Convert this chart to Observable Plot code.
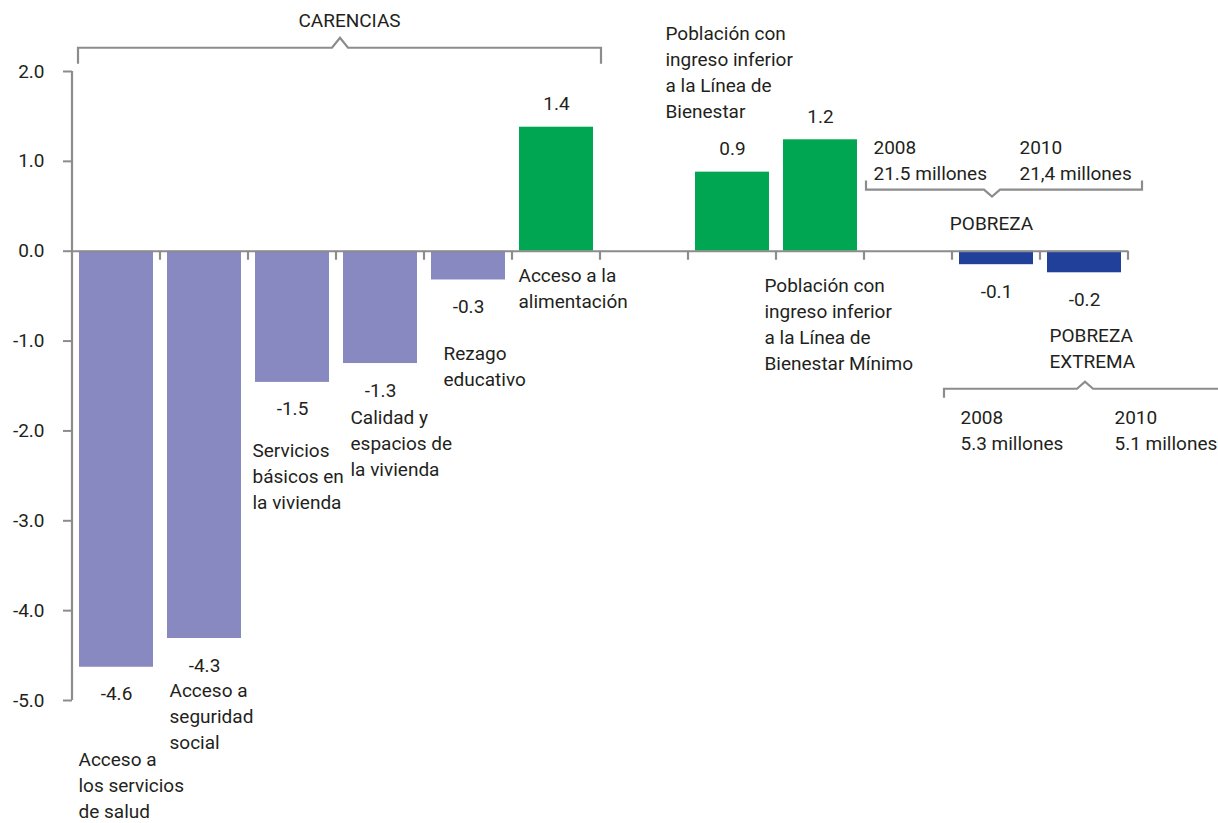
<!DOCTYPE html>
<html><head><meta charset="utf-8">
<script src="https://cdn.jsdelivr.net/npm/d3@7"></script>
<script src="https://cdn.jsdelivr.net/npm/@observablehq/plot@0.6"></script>
<style>
html,body{margin:0;padding:0;background:#fff;}
#chart svg{display:block;}
</style></head><body><div id="chart"></div>
<script>
// ---- data ----
const categories = ["salud","seguridad","servicios","calidad","rezago","alimentacion","gap1","lb","lbm","gap2","pobreza","extrema"];
const values = [-4.63, -4.31, -1.46, -1.25, -0.32, 1.38, null, 0.88, 1.24, null, -0.15, -0.24];
const valueLabels = ["-4.6","-4.3","-1.5","-1.3","-0.3","1.4","","0.9","1.2","","-0.1","-0.2"];
const groups = ["Carencias","Carencias","Carencias","Carencias","Carencias","Carencias","","Ingreso","Ingreso","","Pobreza","Pobreza"];
const categoryLabels = [
  "Acceso a\nlos servicios\nde salud",
  "Acceso a\nseguridad\nsocial",
  "Servicios\nbásicos en\nla vivienda",
  "Calidad y\nespacios de\nla vivienda",
  "Rezago\neducativo",
  "Acceso a la\nalimentación",
  "",
  "Población con\ningreso inferior\na la Línea de\nBienestar",
  "Población con\ningreso inferior\na la Línea de\nBienestar Mínimo",
  "",
  "POBREZA",
  "POBREZA\nEXTREMA"
];
const groupTitle = "CARENCIAS";
const pobrezaYears = ["2008\n21.5 millones", "2010\n21,4 millones"];
const extremaYears = ["2008\n5.3 millones", "2010\n5.1 millones"];
const yTicks = [-5, -4, -3, -2, -1, 0, 1, 2];

// ---- styling ----
const TEXT = "#231f20", GRAY = "#8c8c8c";
const colorOf = d => d.group === "Pobreza" ? "#21409A" : (d.value > 0 ? "#00A651" : "#8789C0");
const data = categories.map((c, i) => ({cat: c, value: values[i], label: valueLabels[i], group: groups[i]}))
  .filter(d => d.value != null);

// annotation placement (y in data units, dx in px from band centre)
const notes = [
  {cat: "salud", y: -5.52, dx: -38, text: categoryLabels[0]},
  {cat: "seguridad", y: -4.76, dx: -35, text: categoryLabels[1]},
  {cat: "servicios", y: -2.08, dx: -40, text: categoryLabels[2]},
  {cat: "calidad", y: -1.72, dx: -30, text: categoryLabels[3]},
  {cat: "rezago", y: -1.0, dx: -25, text: categoryLabels[4]},
  {cat: "alimentacion", y: -0.135, dx: -38, text: categoryLabels[5]},
  {cat: "lb", y: 2.56, dx: -67, text: categoryLabels[7]},
  {cat: "lbm", y: -0.246, dx: -56, text: categoryLabels[8]},
  {cat: "pobreza", y: 0.444, dx: -5, text: categoryLabels[10], anchor: "middle"},
  {cat: "extrema", y: -0.80, dx: -35, text: categoryLabels[11]},
  {cat: "gap2", y: 1.29, dx: -35, text: pobrezaYears[0]},
  {cat: "pobreza", y: 1.29, dx: 23, text: pobrezaYears[1]},
  {cat: "pobreza", y: -1.715, dx: -36, text: extremaYears[0]},
  {cat: "extrema", y: -1.715, dx: 30, text: extremaYears[1]},
  {cat: "calidad", y: 2.703, dx: -31, text: groupTitle, anchor: "middle"}
];

const plot = Plot.plot({
  width: 1218, height: 823,
  marginLeft: 72, marginRight: 90, marginTop: 71, marginBottom: 123,
  style: {fontFamily: "Roboto, sans-serif", fontSize: "19px", color: TEXT, background: "#fff", overflow: "visible"},
  x: {type: "band", domain: categories, paddingInner: 0.16, paddingOuter: 0.08, axis: null},
  y: {domain: [-5, 2], axis: null},
  marks: [
    Plot.barY(data, {x: "cat", y: "value", fill: colorOf}),
    Plot.ruleY([0], {stroke: GRAY, strokeWidth: 2}),
    Plot.axisY(yTicks, {tickSize: 9, tickPadding: 19, tickFormat: d => d.toFixed(1), stroke: GRAY, strokeWidth: 2, fill: TEXT, fontSize: 19}),
    Plot.text(data.filter(d => d.value < 0), {x: "cat", y: "value", text: "label", dy: 27, fontSize: 19, fill: TEXT}),
    Plot.text(data.filter(d => d.value > 0), {x: "cat", y: "value", text: "label", dy: -23, fontSize: 19, fill: TEXT}),
    ...notes.map(n => Plot.text([n], {x: "cat", y: "y", text: "text", dx: n.dx, textAnchor: n.anchor || "start",
      lineAnchor: "top", lineHeight: 1.37, fontSize: 19, fill: TEXT}))
  ]
});
document.getElementById("chart").appendChild(plot);

// ---- axis line, boundary ticks and brackets drawn from the plot's scales ----
const xs = plot.scale("x"), ys = plot.scale("y");
const gapW = (xs.step - xs.bandwidth) / 2;
const leftB = c => xs.apply(c) - gapW;
const rightB = c => xs.apply(c) + xs.bandwidth + gapW;
const y0 = ys.apply(0);
const g = d3.select(plot).append("g").attr("fill", "none").attr("stroke", GRAY).attr("stroke-width", 2.2);
// y axis line
g.append("line").attr("x1", leftB(categories[0])).attr("x2", leftB(categories[0]))
  .attr("y1", ys.apply(2)).attr("y2", ys.apply(-5));
// boundary ticks on zero line
categories.forEach(c => {
  g.append("line").attr("x1", rightB(c)).attr("x2", rightB(c)).attr("y1", y0).attr("y2", y0 + 9);
});
function bracket(x1, x2, yLine, endLen, xN, notchH) {
  const hw = 8;
  const p = `M${x1},${yLine + endLen}V${yLine}H${xN - hw}L${xN},${yLine + notchH}L${xN + hw},${yLine}H${x2}V${yLine + endLen}`;
  g.append("path").attr("d", p);
}
// CARENCIAS
bracket(leftB("salud") + 6, rightB("alimentacion") + 1, ys.apply(2.259), 16,
  (leftB("salud") + rightB("alimentacion")) / 2 + 4, -10);
// POBREZA
bracket(rightB("lbm") + 2, rightB("extrema") + 14, ys.apply(0.68), -9,
  rightB("pobreza") - 48, 7);
// POBREZA EXTREMA
bracket(leftB("pobreza") - 8, 1230, ys.apply(-1.536), 9, rightB("extrema") - 43, -7);
</script></body></html>
